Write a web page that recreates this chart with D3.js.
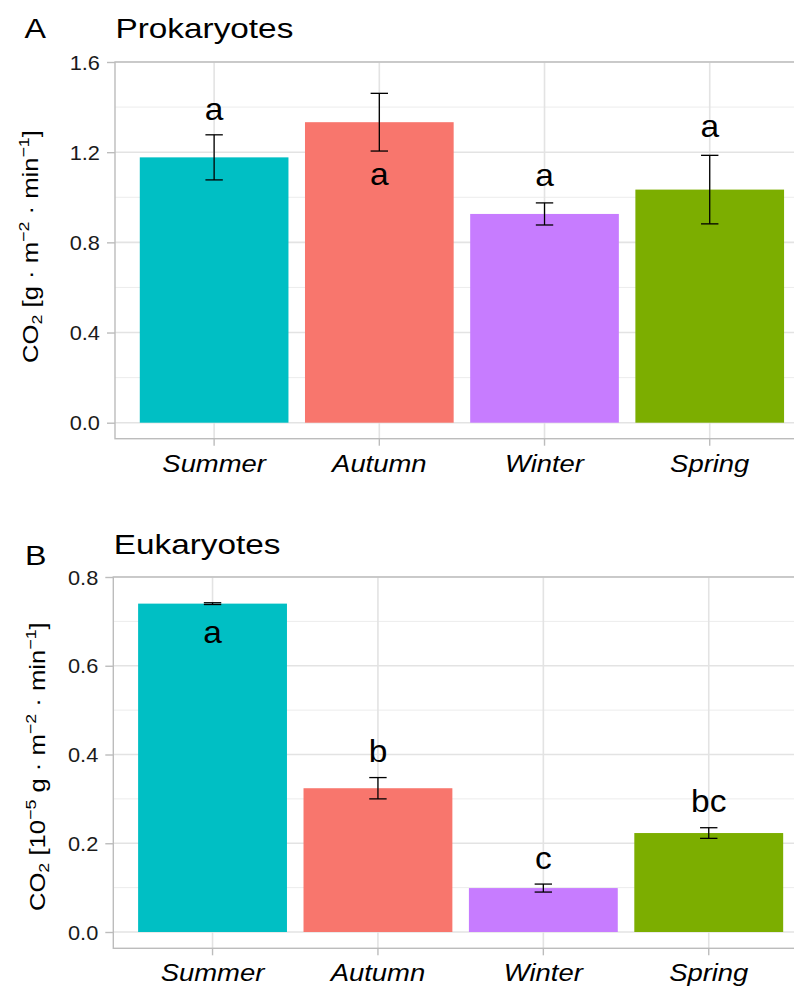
<!DOCTYPE html>
<html>
<head>
<meta charset="utf-8">
<script src="https://cdn.jsdelivr.net/npm/d3@7"></script>
<style>
  body { margin: 0; background: #fff; }
  svg text { font-family: "Liberation Sans", Arial, sans-serif; }
</style>
</head>
<body>
<div id="chart"></div>
<script>
// data
var seasons = ["Summer", "Autumn", "Winter", "Spring"];
var seasonColors = ["#00BFC4", "#F8766D", "#C77CFF", "#7CAE00"];

var prokMean = [1.177, 1.333, 0.926, 1.034];
var prokSE = [0.100, 0.128, 0.049, 0.152];
var prokLetters = ["a", "a", "a", "a"];
var prokLetterY = [1.343, 1.055, 1.050, 1.267];
var prokTicks = [0, 0.4, 0.8, 1.2, 1.6];
var prokMinor = [0.2, 0.6, 1.0, 1.4];

var eukMean = [0.740, 0.324, 0.099, 0.223];
var eukSE = [0.002, 0.024, 0.009, 0.012];
var eukLetters = ["a", "b", "c", "bc"];
var eukLetterY = [0.651, 0.383, 0.142, 0.270];
var eukTicks = [0, 0.2, 0.4, 0.6, 0.8];
var eukMinor = [0.1, 0.3, 0.5, 0.7];

var W = 794, H = 987;
var svg = d3.select("#chart").append("svg")
    .attr("width", W).attr("height", H);

// text with a little horizontal stretch, the reference font is wider than Arial
function label(g, x, y, str, size, sx, anchor, rot) {
    return g.append("text")
        .attr("transform", "translate(" + x + "," + y + ")" + (rot ? " rotate(" + rot + ")" : "") + " scale(" + sx + ",1)")
        .attr("text-anchor", anchor || "start")
        .attr("font-size", size)
        .attr("fill", "#000")
        .text(str);
}

function drawPanel(p) {
    var g = svg.append("g");
    var right = p.left + 4.2 * p.step;
    var yMin = -(p.bottom - p.zeroY) / ((p.zeroY - p.top) / p.yMax);

    var x = d3.scaleBand().domain(seasons)
        .range([p.left, right])
        .paddingInner(0.1).paddingOuter(0.15);
    var y = d3.scaleLinear().domain([yMin, p.yMax]).range([p.bottom, p.top]);

    // grid
    g.selectAll(".minor").data(p.minor).enter().append("line")
        .attr("x1", p.left).attr("x2", right)
        .attr("y1", d => y(d)).attr("y2", d => y(d))
        .attr("stroke", "#ececec").attr("stroke-width", 1);
    g.selectAll(".major").data(p.ticks).enter().append("line")
        .attr("x1", p.left).attr("x2", right)
        .attr("y1", d => y(d)).attr("y2", d => y(d))
        .attr("stroke", "#e3e3e3").attr("stroke-width", 1.6);
    g.selectAll(".vgrid").data(seasons).enter().append("line")
        .attr("x1", d => x(d) + x.bandwidth() / 2).attr("x2", d => x(d) + x.bandwidth() / 2)
        .attr("y1", p.top).attr("y2", p.bottom)
        .attr("stroke", "#e3e3e3").attr("stroke-width", 1.6);

    // bars
    g.selectAll(".bar").data(seasons).enter().append("rect")
        .attr("x", d => x(d))
        .attr("width", x.bandwidth())
        .attr("y", (d, i) => y(p.mean[i]))
        .attr("height", (d, i) => y(0) - y(p.mean[i]))
        .attr("fill", (d, i) => seasonColors[i]);

    // error bars
    var cap = 8.7;
    var eb = g.selectAll(".err").data(seasons).enter().append("g")
        .attr("stroke", "#000").attr("stroke-width", 1.3);
    eb.append("line")
        .attr("x1", d => x(d) + x.bandwidth() / 2).attr("x2", d => x(d) + x.bandwidth() / 2)
        .attr("y1", (d, i) => y(p.mean[i] - p.se[i])).attr("y2", (d, i) => y(p.mean[i] + p.se[i]));
    eb.append("line")
        .attr("x1", d => x(d) + x.bandwidth() / 2 - cap).attr("x2", d => x(d) + x.bandwidth() / 2 + cap)
        .attr("y1", (d, i) => y(p.mean[i] + p.se[i])).attr("y2", (d, i) => y(p.mean[i] + p.se[i]));
    eb.append("line")
        .attr("x1", d => x(d) + x.bandwidth() / 2 - cap).attr("x2", d => x(d) + x.bandwidth() / 2 + cap)
        .attr("y1", (d, i) => y(p.mean[i] - p.se[i])).attr("y2", (d, i) => y(p.mean[i] - p.se[i]));

    // significance letters
    seasons.forEach(function(s, i) {
        label(g, x(s) + x.bandwidth() / 2, y(p.letterY[i]), p.letters[i], 31, 1.08, "middle");
    });

    // panel border
    g.append("rect")
        .attr("x", p.left).attr("y", p.top)
        .attr("width", right - p.left).attr("height", p.bottom - p.top)
        .attr("fill", "none").attr("stroke", "#bcbcbc").attr("stroke-width", 1.4);

    // y axis
    var ya = g.append("g").attr("transform", "translate(" + p.left + ",0)")
        .call(d3.axisLeft(y).tickValues(p.ticks).tickFormat(d3.format(".1f")).tickSize(8).tickPadding(7));
    ya.select(".domain").remove();
    ya.selectAll(".tick line").attr("stroke", "#bcbcbc").attr("stroke-width", 1.4);
    ya.selectAll(".tick text")
        .attr("font-size", 20).attr("fill", "#1a1a1a")
        .attr("font-family", "Liberation Sans, Arial, sans-serif")
        .attr("x", -15 / 1.09).attr("dy", "0.36em")
        .attr("transform", "scale(1.09,1)");

    // x axis
    var xa = g.append("g").attr("transform", "translate(0," + p.bottom + ")")
        .call(d3.axisBottom(x).tickSize(7).tickSizeOuter(0));
    xa.select(".domain").remove();
    xa.selectAll(".tick line").attr("stroke", "#bcbcbc").attr("stroke-width", 1.4);
    xa.selectAll(".tick text").remove();
    seasons.forEach(function(s) {
        label(g, x(s) + x.bandwidth() / 2, p.bottom + 33, s, 24.7, 1.11, "middle")
            .attr("font-style", "italic");
    });

    // y title
    var t = g.append("text")
        .attr("transform", "translate(" + p.ytitleX + "," + p.ytitleY + ") rotate(-90) scale(1.15,1)")
        .attr("text-anchor", "middle")
        .attr("font-size", 22.3)
        .attr("fill", "#000");
    p.ytitle.forEach(function(part) {
        var ts = t.append("tspan").text(part[0]);
        if (part[1] === "sub") ts.attr("font-size", 15.5).attr("dy", 4);
        if (part[1] === "sup") ts.attr("font-size", 15.5).attr("dy", -9);
        if (part[1] === "back-sub") ts.attr("dy", -4);
        if (part[1] === "back-sup") ts.attr("dy", 9);
    });

    // tag and title
    label(svg, p.tagX, p.tagY, p.tag, 28, 1.15, "start");
    label(svg, p.left + 0.5, p.titleY, p.title, 28.5, 1.17, "start");
}

drawPanel({
    left: 115, top: 62, bottom: 438.7, zeroY: 422.7, yMax: 1.6, step: 165.2,
    mean: prokMean, se: prokSE, letters: prokLetters, letterY: prokLetterY,
    ticks: prokTicks, minor: prokMinor,
    tag: "A", tagX: 24.5, tagY: 38.3, title: "Prokaryotes", titleY: 38.3,
    ytitleX: 38.3, ytitleY: 246.5,
    ytitle: [["CO"], ["2", "sub"], [" [g · m", "back-sub"], ["\u22122", "sup"], [" · min", "back-sup"], ["\u22121", "sup"], ["]", "back-sup"]]
});

drawPanel({
    left: 113.3, top: 577, bottom: 948.3, zeroY: 932, yMax: 0.8, step: 165.4,
    mean: eukMean, se: eukSE, letters: eukLetters, letterY: eukLetterY,
    ticks: eukTicks, minor: eukMinor,
    tag: "B", tagX: 25, tagY: 565, title: "Eukaryotes", titleY: 554.3,
    ytitleX: 45, ytitleY: 766.7,
    ytitle: [["CO"], ["2", "sub"], [" [10", "back-sub"], ["\u22125", "sup"], [" g · m", "back-sup"], ["\u22122", "sup"], [" · min", "back-sup"], ["\u22121", "sup"], ["]", "back-sup"]]
});
</script>
</body>
</html>
